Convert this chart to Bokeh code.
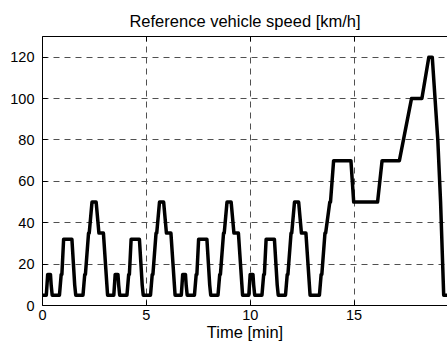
from bokeh.plotting import figure
from bokeh.models import Range1d, FixedTicker, LinearAxis, ColumnDataSource
from bokeh.embed import file_html
from bokeh.resources import INLINE
import numpy as np

# ECE-15 urban cycle breakpoints (seconds, km/h) with 5 km/h idle floor
ece_t = [0, 11, 15, 23, 25, 28, 49, 54, 56, 61, 85, 93, 96, 117, 122, 124, 133, 135, 143, 155, 163, 176, 186, 188, 195]
ece_v = [5, 5, 15, 15, 10, 5, 5, 15, 15, 32, 32, 10, 5, 5, 15, 15, 35, 35, 50, 50, 35, 35, 10, 5, 5]
ece_repeats = [0, 195, 390, 585]

# EUDC extra-urban cycle breakpoints (seconds from its start, km/h)
eudc_start = 780
eudc_t = [0, 20, 25, 27, 36, 38, 50, 52, 61, 111, 119, 188, 201, 251, 286, 316, 336, 346, 362, 370, 379, 400]
eudc_v = [5, 5, 15, 15, 35, 35, 50, 50, 70, 70, 50, 50, 70, 70, 100, 100, 120, 120, 80, 50, 5, 5]

x_ticks = [0, 5, 10, 15]
y_ticks = [0, 20, 40, 60, 80, 100, 120]

t_sec = []
v_kmh = []
for off in ece_repeats:
    t_sec += [off + t for t in ece_t]
    v_kmh += ece_v
t_sec += [eudc_start + t for t in eudc_t]
v_kmh += eudc_v
t_min = [t / 60.0 for t in t_sec]

src = ColumnDataSource(dict(t=t_min, v=v_kmh))

FONT = "Liberation Sans"

p = figure(width=447, height=351, output_backend="svg", toolbar_location=None,
           x_range=Range1d(0, 19.5), y_range=Range1d(0, 130),
           title="Reference vehicle speed [km/h]",
           min_border_left=42, min_border_right=0, min_border_top=36, min_border_bottom=46,
           background_fill_color="white", border_fill_color="white")
p.outline_line_color = None

p.title.align = "center"
p.title.text_font = FONT
p.title.text_font_style = "normal"
p.title.text_font_size = "16.5px"
p.title.text_color = "black"
p.title.standoff = 14

for ax in (p.xaxis[0], p.yaxis[0]):
    ax.axis_line_color = "black"
    ax.axis_line_width = 1
    ax.major_tick_in = 5
    ax.major_tick_out = 0
    ax.major_tick_line_color = "black"
    ax.minor_tick_line_color = None
    ax.major_label_text_font = FONT
    ax.major_label_text_font_size = "14.5px"
    ax.major_label_text_color = "black"

p.xaxis[0].ticker = FixedTicker(ticks=x_ticks)
p.yaxis[0].ticker = FixedTicker(ticks=y_ticks)
p.xaxis[0].major_label_standoff = 4
p.yaxis[0].major_label_standoff = 8
p.xaxis[0].axis_label = "Time [min]"
p.xaxis[0].axis_label_text_font = FONT
p.xaxis[0].axis_label_text_font_size = "16.5px"
p.xaxis[0].axis_label_text_font_style = "normal"
p.xaxis[0].axis_label_text_color = "black"
p.xaxis[0].axis_label_standoff = 0

top = LinearAxis(ticker=FixedTicker(ticks=x_ticks), major_tick_in=5, major_tick_out=0,
                 minor_tick_line_color=None, major_label_text_font_size="1px",
                 major_label_text_color=None, major_label_standoff=0,
                 axis_line_color="black", major_tick_line_color="black")
p.add_layout(top, "above")

p.xgrid.ticker = FixedTicker(ticks=x_ticks)
p.ygrid.ticker = FixedTicker(ticks=y_ticks)
for g in (p.xgrid[0], p.ygrid[0]):
    g.grid_line_color = "#505050"
    g.grid_line_dash = "6 5"
    g.grid_line_width = 1

p.line("t", "v", source=src, line_color="black", line_width=3.5, line_join="round")

open("out.html", "w").write(file_html(p, INLINE))
